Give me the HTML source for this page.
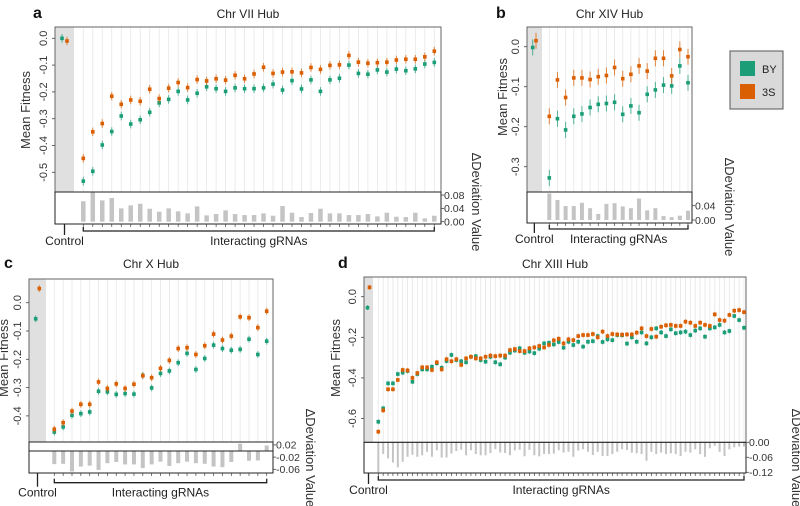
<!DOCTYPE html>
<html><head><meta charset="utf-8"><style>
html,body{margin:0;padding:0;background:#fff;}
svg{display:block;font-family:"Liberation Sans",Arial,sans-serif;}
</style></head><body>
<svg id="fig" width="800" height="506" viewBox="0 0 800 506" xmlns="http://www.w3.org/2000/svg">
<g id="legend">
<rect x="730" y="51" width="53" height="58" fill="#d9d9d9" stroke="#555" stroke-width="1"/>
<rect x="740" y="61" width="15" height="15" fill="#1b9e77"/>
<text x="762" y="73" font-size="11" fill="#222">BY</text>
<rect x="740" y="84" width="15" height="15" fill="#d95f02"/>
<text x="762" y="96" font-size="11" fill="#222">3S</text>
</g>
</svg>
<script>
// ---- Panel a: Chr VII Hub ----
const aBY=[-0.533,-0.496,-0.398,-0.348,-0.29,-0.32,-0.304,-0.276,-0.241,-0.228,-0.198,-0.23,-0.205,-0.181,-0.188,-0.198,-0.185,-0.188,-0.188,-0.185,-0.171,-0.193,-0.158,-0.189,-0.155,-0.198,-0.155,-0.149,-0.1,-0.131,-0.134,-0.118,-0.126,-0.115,-0.121,-0.114,-0.096,-0.09];
const a3S=[-0.448,-0.349,-0.318,-0.216,-0.246,-0.23,-0.235,-0.19,-0.225,-0.186,-0.165,-0.184,-0.154,-0.159,-0.151,-0.156,-0.138,-0.151,-0.133,-0.108,-0.131,-0.126,-0.125,-0.129,-0.109,-0.116,-0.101,-0.099,-0.064,-0.089,-0.093,-0.091,-0.089,-0.081,-0.078,-0.078,-0.069,-0.048];
const aDev=[0.0615,0.089,0.064,0.071,0.040,0.049,0.054,0.039,0.030,0.040,0.031,0.025,0.046,0.019,0.023,0.034,0.023,0.020,0.020,0.025,0.018,0.047,0.027,0.014,0.026,0.039,0.025,0.025,0.020,0.020,0.023,0.016,0.027,0.015,0.014,0.027,0.010,0.018];
const aCtl=[0.0,-0.01];
const aTicks=[0,-0.1,-0.2,-0.3,-0.4,-0.5];
const aDevTicks=[0,0.04,0.08];
// ---- Panel b: Chr XIV Hub ----
const bBY=[-0.328,-0.18,-0.208,-0.174,-0.168,-0.152,-0.144,-0.142,-0.139,-0.169,-0.148,-0.165,-0.119,-0.108,-0.096,-0.098,-0.048,-0.09];
const b3S=[-0.174,-0.083,-0.127,-0.078,-0.078,-0.082,-0.075,-0.072,-0.052,-0.08,-0.069,-0.048,-0.061,-0.029,-0.029,-0.073,-0.007,-0.025];
const bDev=[0.074,0.056,0.039,0.039,0.048,0.033,0.017,0.045,0.047,0.038,0.033,0.060,0.027,0.033,0.011,0.008,0.012,0.026];
const bCtl=[-0.002,0.015];
const bTicks=[0,-0.1,-0.2,-0.3];
const bDevTicks=[0,0.04];
// ---- Panel c: Chr X Hub ----
const cBY=[-0.457,-0.439,-0.398,-0.392,-0.386,-0.313,-0.315,-0.324,-0.321,-0.323,-0.257,-0.301,-0.25,-0.241,-0.212,-0.179,-0.236,-0.197,-0.15,-0.162,-0.168,-0.165,-0.129,-0.183,-0.136];
const c3S=[-0.447,-0.424,-0.383,-0.359,-0.359,-0.28,-0.303,-0.287,-0.303,-0.288,-0.258,-0.265,-0.232,-0.204,-0.162,-0.159,-0.183,-0.152,-0.111,-0.132,-0.118,-0.05,-0.053,-0.088,-0.03];
const cDev=[-0.043,-0.042,-0.067,-0.051,-0.048,-0.062,-0.040,-0.036,-0.044,-0.044,-0.056,-0.044,-0.035,-0.049,-0.040,-0.035,-0.040,-0.042,-0.051,-0.053,-0.036,0.024,-0.032,-0.031,0.018];
const cCtl=[-0.057,0.05];
const cTicks=[0,-0.1,-0.2,-0.3,-0.4];
const cDevTicks=[0.02,-0.02,-0.06];
// ---- Panel d: Chr XIII Hub ----
const dBY=[-0.616,-0.55,-0.427,-0.427,-0.381,-0.374,-0.366,-0.419,-0.381,-0.358,-0.358,-0.345,-0.328,-0.35,-0.317,-0.287,-0.312,-0.318,-0.323,-0.296,-0.293,-0.312,-0.32,-0.296,-0.323,-0.333,-0.3,-0.276,-0.265,-0.254,-0.276,-0.27,-0.278,-0.256,-0.23,-0.227,-0.235,-0.223,-0.251,-0.222,-0.238,-0.222,-0.246,-0.222,-0.219,-0.194,-0.223,-0.21,-0.214,-0.189,-0.19,-0.231,-0.2,-0.222,-0.176,-0.23,-0.2,-0.156,-0.176,-0.194,-0.161,-0.18,-0.176,-0.172,-0.189,-0.167,-0.156,-0.197,-0.156,-0.151,-0.139,-0.176,-0.169,-0.095,-0.115,-0.153];
const d3S=[-0.665,-0.56,-0.456,-0.456,-0.41,-0.361,-0.363,-0.4,-0.376,-0.348,-0.348,-0.361,-0.323,-0.358,-0.308,-0.318,-0.308,-0.336,-0.304,-0.296,-0.304,-0.304,-0.296,-0.29,-0.293,-0.29,-0.29,-0.263,-0.258,-0.268,-0.268,-0.254,-0.25,-0.243,-0.25,-0.238,-0.215,-0.207,-0.23,-0.21,-0.214,-0.194,-0.189,-0.189,-0.184,-0.2,-0.172,-0.194,-0.184,-0.186,-0.187,-0.186,-0.186,-0.177,-0.156,-0.194,-0.159,-0.197,-0.148,-0.141,-0.139,-0.144,-0.144,-0.123,-0.128,-0.144,-0.128,-0.139,-0.144,-0.087,-0.115,-0.118,-0.09,-0.069,-0.066,-0.076];
const dDev=[-0.12,-0.047,-0.064,-0.081,-0.1,-0.078,-0.058,-0.05,-0.058,-0.052,-0.038,-0.058,-0.032,-0.061,-0.061,-0.045,-0.035,-0.03,-0.052,-0.032,-0.047,-0.052,-0.052,-0.043,-0.027,-0.041,-0.043,-0.052,-0.032,-0.03,-0.056,-0.03,-0.052,-0.056,-0.047,-0.047,-0.045,-0.032,-0.041,-0.038,-0.058,-0.033,-0.028,-0.038,-0.051,-0.038,-0.055,-0.055,-0.047,-0.038,-0.028,-0.031,-0.041,-0.044,-0.047,-0.074,-0.038,-0.047,-0.041,-0.047,-0.044,-0.047,-0.055,-0.038,-0.041,-0.028,-0.047,-0.058,-0.024,-0.014,-0.038,-0.055,-0.028,-0.02,-0.017,-0.017];
const dCtl=[-0.054,0.046];
const dTicks=[0,-0.2,-0.4,-0.6];
const dDevTicks=[0,-0.06,-0.12];

const NS="http://www.w3.org/2000/svg";
const svg=document.getElementById('fig');
function mk(tag,attrs,parent){const e=document.createElementNS(NS,tag);for(const k in attrs)e.setAttribute(k,attrs[k]);(parent||svg).appendChild(e);return e;}
function fmt(v,d){let s=Math.abs(v).toFixed(d);return (v<0?'-':'')+s;}

function panel(cfg,by,s3,dev,ctl,ticks,devTicks){
  const g=mk('g',{});
  
  
  const n=by.length;
  const xs=i=>cfg.firstX+(cfg.lastX-cfg.firstX)*i/(n-1);
  const ys=v=>cfg.zeroY-v*cfg.scale;
  const yb=v=>cfg.devZeroY-v*cfg.devScale;
  const L=cfg.x0,R=cfg.x1,T=cfg.top,MB=cfg.mainBot,BB=cfg.barBot;
  const gr=mk('rect',{x:L,y:T,width:cfg.grayX-L,height:MB-T,fill:'#e0e0e0'},g);
  
  
  for(let i=0;i<n;i++){
    const ln=mk('line',{x1:xs(i),x2:xs(i),y1:T,y2:MB,stroke:'#e6e6e6','stroke-width':0.8},g);
    
    
  }
  for(let i=0;i<n;i++){
    const v=dev[i];const y0=yb(0),y1=yb(v);
    const b=mk('rect',{x:xs(i)-cfg.barW/2,y:Math.min(y0,y1),width:cfg.barW,height:Math.abs(y1-y0),fill:'#c4c4c4'},g);
    
    
    const tk=mk('line',{x1:xs(i),x2:xs(i),y1:BB,y2:BB+3,stroke:'#444','stroke-width':0.7},g);
    
    
  }
  const f1=mk('rect',{x:L,y:T,width:R-L,height:MB-T,fill:'none',stroke:'#666','stroke-width':1},g);
  
  
  const f2=mk('rect',{x:L,y:MB,width:R-L,height:BB-MB,fill:'none',stroke:'#222','stroke-width':1},g);
  
  
  if(cfg.midLine){
    const ml=mk('line',{x1:L,x2:R,y1:yb(0),y2:yb(0),stroke:'#222','stroke-width':1},g);
    
    
  }
  function pt(x,v,col,nm){
    const e=mk('line',{x1:x,x2:x,y1:ys(v+cfg.err),y2:ys(v-cfg.err),stroke:col,'stroke-width':1,'stroke-opacity':0.75},g);
    
    
    const c=mk('rect',{x:x-1.8,y:ys(v)-1.8,width:3.6,height:3.6,fill:col},g);
    
    
  }
  for(let i=0;i<n;i++){pt(xs(i)-cfg.off,by[i],'#1b9e77','by');pt(xs(i)+cfg.off,s3[i],'#d95f02','3s');}
  pt(cfg.ctlX[0],ctl[0],'#1b9e77','by-control');
  pt(cfg.ctlX[1],ctl[1],'#d95f02','3s-control');
  ticks.forEach(t=>{
    const y=ys(t);
    mk('line',{x1:L-3,x2:L,y1:y,y2:y,stroke:'#444','stroke-width':0.8},g);
    const tx=mk('text',{x:L-8,y:y,'font-size':11,fill:'#333','text-anchor':'middle',transform:`rotate(-90 ${L-8} ${y})`},g);
    
    
    tx.textContent=fmt(t,1);
  });
  devTicks.forEach(t=>{
    const y=yb(t);
    mk('line',{x1:R,x2:R+3,y1:y,y2:y,stroke:'#444','stroke-width':0.8},g);
    const tx=mk('text',{x:R+3,y:y+3.8,'font-size':10.5,fill:'#333'},g);
    
    
    tx.textContent=fmt(t,2);
  });
  const yt=mk('text',{x:cfg.yTitleX,y:cfg.yTitleY,'font-size':13,fill:'#333','text-anchor':'middle',transform:`rotate(-90 ${cfg.yTitleX} ${cfg.yTitleY})`},g);
  
  
  yt.textContent='Mean Fitness';
  const rt=mk('text',{x:cfg.rTitleX,y:cfg.rTitleY,'font-size':13,fill:'#333','text-anchor':'middle',transform:`rotate(90 ${cfg.rTitleX} ${cfg.rTitleY})`},g);
  
  
  rt.textContent='ΔDeviation Value';
  const tt=mk('text',{x:(L+R)/2,y:cfg.titleY,'font-size':12,fill:'#222','text-anchor':'middle'},g);
  
  
  tt.textContent=cfg.title;
  const lt=mk('text',{x:cfg.letterX,y:cfg.titleY,'font-size':16,'font-weight':'bold',fill:'#111'},g);
  
  
  lt.textContent=cfg.letter;
  const by0=cfg.brY, cx=(cfg.ctlX[0]+cfg.ctlX[1])/2;
  const br=mk('path',{d:`M${xs(0)} ${by0-4}V${by0}H${xs(n-1)}V${by0-4}`,fill:'none',stroke:'#222','stroke-width':1.3},g);
  
  
  mk('line',{x1:cx,x2:cx,y1:BB,y2:by0+4,stroke:'#222','stroke-width':1.3},g);
  const ct=mk('text',{x:cx,y:by0+14,'font-size':12,fill:'#222','text-anchor':'middle'},g);
  
  
  ct.textContent='Control';
  const it=mk('text',{x:(xs(0)+xs(n-1))/2,y:by0+14,'font-size':12,fill:'#222','text-anchor':'middle'},g);
  
  
  it.textContent='Interacting gRNAs';
}

panel({name:'panel-a',letter:'a',title:'Chr VII Hub',x0:55,x1:441,top:27,mainBot:192,barBot:224,grayX:74,zeroY:38.3,scale:268,devZeroY:221.7,devScale:333,firstX:83.3,lastX:434.3,off:0,err:0.016,barW:4.5,ctlX:[62,67],yTitleX:30,yTitleY:110,rTitleX:472,rTitleY:202,titleY:18,letterX:33,brY:231},aBY,a3S,aDev,aCtl,aTicks,aDevTicks);
panel({name:'panel-b',letter:'b',title:'Chr XIV Hub',x0:527,x1:692,top:27,mainBot:192,barBot:223,grayX:542,zeroY:46.7,scale:400,devZeroY:220,devScale:358,firstX:549.3,lastX:688,off:0,err:0.02,barW:4,ctlX:[532.7,536],yTitleX:507,yTitleY:97,rTitleX:725,rTitleY:207,titleY:18,letterX:496,brY:229},bBY,b3S,bDev,bCtl,bTicks,bDevTicks);
panel({name:'panel-c',letter:'c',title:'Chr X Hub',x0:29,x1:273,top:279,mainBot:442,barBot:473,grayX:46,zeroY:302.7,scale:283,devZeroY:451,devScale:305,firstX:54.3,lastX:266.7,off:0,err:0.012,barW:4,ctlX:[35.7,39.3],yTitleX:8,yTitleY:358,rTitleX:306,rTitleY:458,titleY:268,letterX:4,brY:482.7,midLine:true},cBY,c3S,cDev,cCtl,cTicks,cDevTicks);
panel({name:'panel-d',letter:'d',title:'Chr XIII Hub',x0:364,x1:746,top:277,mainBot:442.3,barBot:473,grayX:373,zeroY:296.7,scale:203,devZeroY:442.3,devScale:250,firstX:378.3,lastX:744,off:0,err:0.012,barW:2,ctlX:[367.5,369.5],yTitleX:340,yTitleY:358,rTitleX:792,rTitleY:458,titleY:268,letterX:338,brY:480},dBY,d3S,dDev,dCtl,dTicks,dDevTicks);
</script>
</body></html>
